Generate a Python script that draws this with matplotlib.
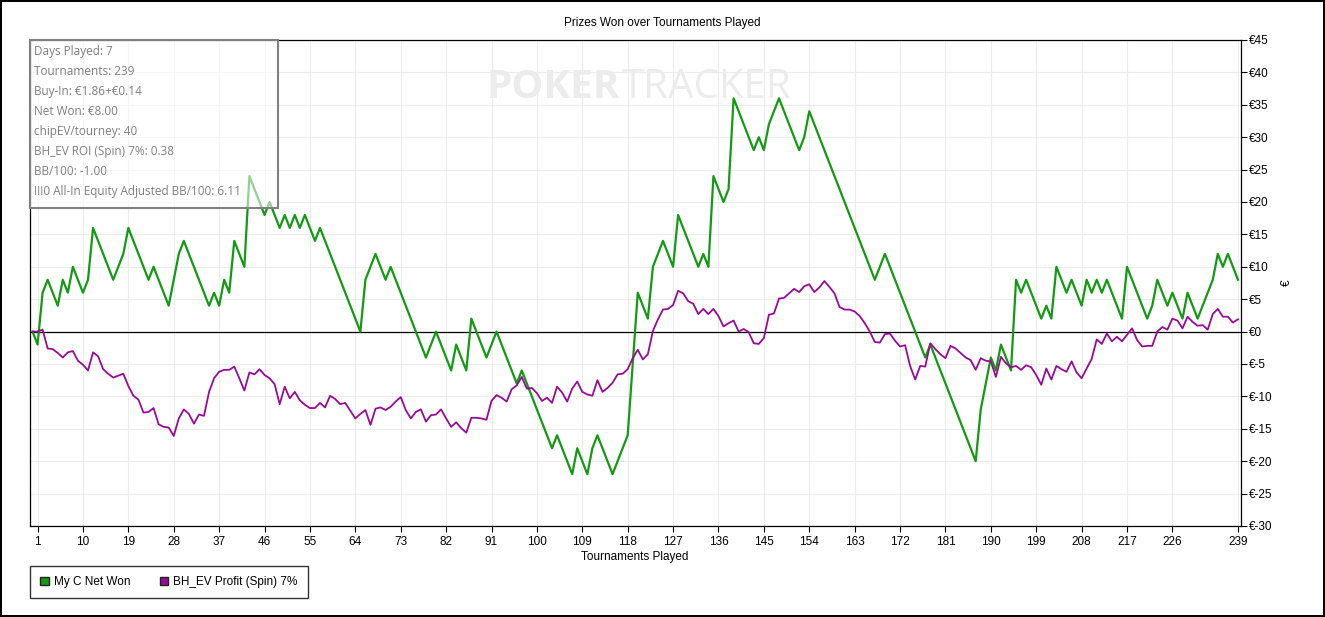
import numpy as np
import matplotlib
matplotlib.use('Agg')
import matplotlib.pyplot as plt
from matplotlib.patches import Rectangle, Patch

W, H = 1325, 617

# cumulative net won per tournament (t = 0..239)
net_won = [
    0, -2, 6, 8, 6, 4, 8, 6, 10, 8,
    6, 8, 16, 14, 12, 10, 8, 10, 12, 16,
    14, 12, 10, 8, 10, 8, 6, 4, 8, 12,
    14, 12, 10, 8, 6, 4, 6, 4, 8, 6,
    14, 12, 10, 24, 22, 20, 18, 20, 18, 16,
    18, 16, 18, 16, 18, 16, 14, 16, 14, 12,
    10, 8, 6, 4, 2, 0, 8, 10, 12, 10,
    8, 10, 8, 6, 4, 2, 0, -2, -4, -2,
    0, -2, -4, -6, -2, -4, -6, 2, 0, -2,
    -4, -2, 0, -2, -4, -6, -8, -6, -8, -10,
    -12, -14, -16, -18, -16, -18, -20, -22, -18, -20,
    -22, -18, -16, -18, -20, -22, -20, -18, -16, -5,
    6, 4, 2, 10, 12, 14, 12, 10, 18, 16,
    14, 12, 10, 12, 10, 24, 22, 20, 22, 36,
    34, 32, 30, 28, 30, 28, 32, 34, 36, 34,
    32, 30, 28, 30, 34, 32, 30, 28, 26, 24,
    22, 20, 18, 16, 14, 12, 10, 8, 10, 12,
    10, 8, 6, 4, 2, 0, -2, -4, -2, -4,
    -6, -8, -10, -12, -14, -16, -18, -20, -12, -8,
    -4, -6, -2, -4, -6, 8, 6, 8, 6, 4,
    2, 4, 2, 10, 8, 6, 8, 6, 4, 8,
    6, 8, 6, 8, 6, 4, 2, 10, 8, 6,
    4, 2, 4, 8, 6, 4, 6, 4, 2, 6,
    4, 2, 4, 6, 8, 12, 10, 12, 10, 8,
]

# BH_EV profit per tournament (t = 0..239)
bh_ev = [
    0, 0.0, 0.3, -2.6, -2.7, -3.3, -4.0, -3.2, -3.0, -4.5,
    -5.1, -6.0, -3.2, -3.8, -5.8, -6.5, -7.1, -6.8, -6.5, -8.4,
    -9.9, -10.5, -12.5, -12.4, -11.8, -14.3, -14.7, -14.8, -16.1, -13.4,
    -12.0, -12.7, -14.2, -12.8, -13.0, -9.3, -7.2, -6.2, -5.9, -5.9,
    -5.4, -7.2, -9.1, -6.3, -6.6, -5.8, -6.7, -7.2, -8.1, -11.2,
    -8.5, -10.3, -9.3, -10.6, -11.3, -11.8, -11.8, -11.0, -11.7, -9.9,
    -10.4, -11.2, -11.0, -12.2, -13.4, -12.7, -12.1, -14.4, -11.9, -11.7,
    -12.1, -11.6, -10.8, -10.1, -12.1, -13.4, -12.4, -12.0, -13.9, -12.9,
    -12.8, -12.0, -13.4, -14.7, -14.0, -14.9, -15.6, -13.3, -13.3, -13.4,
    -13.6, -10.7, -9.8, -10.2, -10.8, -8.9, -8.3, -7.0, -8.8, -8.7,
    -9.5, -10.7, -10.2, -11.0, -8.5, -9.4, -10.8, -8.8, -7.7, -9.3,
    -9.7, -9.9, -7.5, -9.3, -8.7, -7.9, -6.6, -6.5, -5.8, -4.1,
    -2.8, -4.3, -3.5, 0.1, 1.9, 3.4, 3.5, 4.1, 6.3, 5.9,
    4.7, 4.3, 2.7, 3.5, 2.7, 3.5, 2.4, 0.8, 1.3, 1.7,
    0.0, 0.4, -0.1, -1.8, -1.9, -1.0, 2.6, 2.8, 5.1, 5.2,
    5.9, 6.6, 6.1, 7.0, 7.3, 6.1, 6.8, 7.8, 6.9, 5.9,
    3.8, 3.4, 3.4, 3.1, 2.4, 1.3, 0.0, -1.6, -1.7, -0.4,
    -0.3, -1.4, -2.3, -2.1, -5.3, -7.4, -5.3, -5.4, -1.8, -2.7,
    -3.5, -4.1, -2.2, -2.6, -3.3, -4.0, -4.4, -5.9, -4.1, -4.5,
    -4.6, -7.0, -3.9, -4.9, -5.5, -5.3, -5.9, -5.2, -5.5, -6.7,
    -8.2, -5.7, -7.4, -5.3, -5.8, -6.2, -4.6, -6.3, -7.2, -5.7,
    -4.2, -1.2, -1.9, -0.3, -1.5, -0.8, -1.5, -0.5, 0.5, -1.3,
    -2.3, -2.2, -2.2, 0.0, 0.7, 0.3, 2.0, 1.7, 0.5, 2.3,
    1.5, 0.9, 1.0, 0.3, 2.7, 3.5, 2.3, 2.3, 1.4, 1.9,
]

x_ticks = [1, 10, 19, 28, 37, 46, 55, 64, 73, 82, 91, 100, 109, 118, 127,
           136, 145, 154, 163, 172, 181, 190, 199, 208, 217, 226, 239]
y_ticks = list(range(-30, 50, 5))

info_lines = [
    "Days Played: 7",
    "Tournaments: 239",
    "Buy-In: \u20ac1.86+\u20ac0.14",
    "Net Won: \u20ac8.00",
    "chipEV/tourney: 40",
    "BH_EV ROI (Spin) 7%: 0.38",
    "BB/100: -1.00",
    "!!!0 All-In Equity Adjusted BB/100: 6.11",
]

green = '#129a12'
purple = '#990a99'

plt.rcParams['font.family'] = ['Liberation Sans', 'DejaVu Sans']

fig = plt.figure(figsize=(W / 100, H / 100), dpi=100)
fig.patch.set_edgecolor('black')
fig.patch.set_linewidth(1.5)

def fx(px):
    return px / W

def fy(py):
    return 1 - py / H

ax = fig.add_axes([fx(30), fy(526), fx(1240.5) - fx(30), fy(40) - fy(526)])

t = np.arange(len(net_won))
ax.plot(t, net_won, color=green, lw=1.6, zorder=3)
ax.plot(t, bh_ev, color=purple, lw=1.3, zorder=3)
ax.axhline(0, color='black', lw=0.9, zorder=2)

ax.set_xlim(-0.5, 239.5)
ax.set_ylim(-30, 45)
ax.set_xticks(x_ticks)
ax.set_yticks(y_ticks)
ax.set_yticklabels(['\u20ac%d' % v for v in y_ticks])
ax.yaxis.tick_right()
ax.tick_params(direction='out', length=4, width=0.8, labelsize=8.5, pad=2)
ax.tick_params(axis='x', pad=3)
ax.grid(color='#ececec', lw=0.8)
ax.set_axisbelow(True)
for s in ax.spines.values():
    s.set_linewidth(0.9)

# watermark
ax.text(fx(620), fy(88), 'POKER', transform=fig.transFigure, ha='right', va='center',
        fontsize=29, fontweight='bold', color='#ececec', zorder=1, family='Open Sans')
ax.text(fx(622), fy(88), 'TRACKER', transform=fig.transFigure, ha='left', va='center',
        fontsize=29, color='#ececec', zorder=1, family='Open Sans')

fig.text(0.5, fy(23), 'Prizes Won over Tournaments Played', ha='center', va='center', fontsize=8.5)
fig.text(fx(635), fy(557), 'Tournaments Played', ha='center', va='center', fontsize=8.5)
fig.text(fx(1287), fy(283), '\u20ac', ha='center', va='center', rotation=90, fontsize=8.5)

# info box
fig.add_artist(Rectangle((fx(30), fy(208)), fx(278) - fx(30), fy(40) - fy(208),
                         transform=fig.transFigure, facecolor='white', alpha=0.55,
                         edgecolor='none', zorder=5))
fig.add_artist(Rectangle((fx(30), fy(208)), fx(278) - fx(30), fy(40) - fy(208),
                         transform=fig.transFigure, facecolor='none',
                         edgecolor='#808080', lw=1.5, zorder=6))
for i, line in enumerate(info_lines):
    fig.text(fx(34), fy(51.5 + 20 * i), line, ha='left', va='center', fontsize=8.5,
             color='#7f7f7f', family='Open Sans', zorder=7)

handles = [Patch(facecolor=green, edgecolor='#202020', label='My C Net Won'),
           Patch(facecolor=purple, edgecolor='#202020', label='BH_EV Profit (Spin) 7%')]
leg = fig.legend(handles=handles, loc='lower left', bbox_to_anchor=(fx(30), fy(598)),
                 ncol=2, fontsize=8.5, frameon=True, fancybox=False, edgecolor='black',
                 handlelength=0.75, handleheight=0.75, handletextpad=0.4,
                 columnspacing=2.5, borderpad=0.85, borderaxespad=0)
leg.get_frame().set_linewidth(1.0)

fig.savefig('out.png', dpi=100)
